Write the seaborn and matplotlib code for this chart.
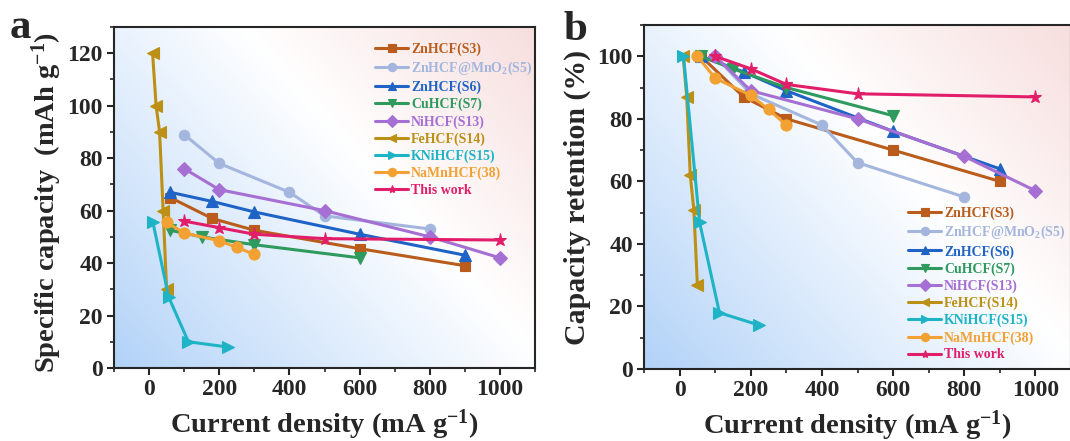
import numpy as np
import pandas as pd
import matplotlib
matplotlib.use("Agg")
import matplotlib.pyplot as plt
import seaborn as sns
from matplotlib.ticker import MultipleLocator, AutoMinorLocator

# ---------------- data ----------------
names = ["ZnHCF(S3)", r"ZnHCF@MnO$_\mathbf{2}$(S5)", "ZnHCF(S6)", "CuHCF(S7)",
         "NiHCF(S13)", "FeHCF(S14)", "KNiHCF(S15)", "NaMnHCF(38)", "This work"]

# panel a: specific capacity
s3_x = [60, 180, 300, 600, 900]
s3_cap = [65, 57, 52.5, 45.5, 39]
s5_x = [100, 200, 400, 500, 800]
s5_cap = [89, 78, 67, 58, 53]
s6_x = [60, 180, 300, 600, 900]
s6_cap = [67, 63.5, 59.5, 51, 43]
s7_x = [60, 150, 300, 600]
s7_cap = [52.5, 50, 47, 42]
s13_x = [100, 200, 500, 800, 1000]
s13_cap = [76, 68, 60, 50, 42]
s14_x = [10, 20, 30, 40, 50]
s14_cap = [120, 100, 90, 60, 30]
s15_x = [11, 56, 112, 224]
s15_cap = [55.5, 27, 10, 8]
s38_x = [50, 100, 200, 250, 300]
s38_cap = [55.5, 51.5, 48.5, 46, 43.3]
tw_x = [100, 200, 300, 500, 1000]
tw_cap = [56, 53.5, 51, 49.3, 48.8]

# panel b: capacity retention
s3_ret = [100, 87, 80, 70, 60]
s5_ret = [100, 88, 78, 66, 55]
s6_ret = [100, 95, 89, 76, 64]
s7_ret = [100, 96, 90, 81]
s13_ret = [100, 89, 80, 68, 57]
s14_ret = [100, 87, 62, 51, 27]
s15_ret = [100, 47, 18, 14]
s38_ret = [100, 93, 87.5, 83, 78]
tw_ret = [100, 96, 91, 88, 87]

xs = [s3_x, s5_x, s6_x, s7_x, s13_x, s14_x, s15_x, s38_x, tw_x]
caps = [s3_cap, s5_cap, s6_cap, s7_cap, s13_cap, s14_cap, s15_cap, s38_cap, tw_cap]
rets = [s3_ret, s5_ret, s6_ret, s7_ret, s13_ret, s14_ret, s15_ret, s38_ret, tw_ret]

colors = ["#B95C1C", "#A4B6DE", "#1F63C6", "#2E9A5E", "#A66FD3",
          "#BB9014", "#1EB4C6", "#F2A132", "#E21E6A"]
markers = ["s", "o", "^", "v", "D", "<", ">", "o", "*"]
msizes = [7, 7.5, 8, 8, 7, 8, 8, 8, 9.5]

x_ticks = [0, 200, 400, 600, 800, 1000]

# ---------------- style ----------------
sns.set_style("ticks")
plt.rcParams["font.family"] = ["Liberation Serif", "DejaVu Serif"]
plt.rcParams["font.weight"] = "bold"
plt.rcParams["mathtext.fontset"] = "custom"
plt.rcParams["mathtext.rm"] = "Liberation Serif:bold"
plt.rcParams["mathtext.bf"] = "Liberation Serif:bold"
plt.rcParams["mathtext.it"] = "Liberation Serif:bold:italic"
plt.rcParams["axes.linewidth"] = 1.5

fig = plt.figure(figsize=(10.7, 4.41), dpi=100)
ax_a = fig.add_axes([114 / 1070, 1 - 368 / 441, 421 / 1070, 341 / 441])
ax_b = fig.add_axes([644 / 1070, 1 - 369 / 441, 427 / 1070, 344 / 441])


def gradient_bg(ax):
    n = 300
    u = np.linspace(0, 1, n)[None, :]
    v = np.linspace(0, 1, n)[:, None]
    t = 0.58 * u + 0.42 * v
    blue = np.array([0.69, 0.82, 0.97])
    white = np.array([1.0, 1.0, 1.0])
    pink = np.array([0.97, 0.87, 0.87])
    w0 = 0.6
    lo = np.clip(t / w0, 0, 1) ** 0.9
    hi = np.clip((t - w0) / (1 - w0), 0, 1)
    mask = (t <= w0)[..., None]
    c_lo = blue + (white - blue) * lo[..., None]
    c_hi = white + (pink - white) * hi[..., None]
    img = np.where(mask, c_lo, c_hi)
    ax.imshow(img, extent=[0, 1, 0, 1], transform=ax.transAxes, origin="lower",
              aspect="auto", zorder=0, interpolation="bilinear")


def draw(ax, ys):
    gradient_bg(ax)
    for i in range(len(names)):
        df = pd.DataFrame({"x": xs[i], "y": ys[i]})
        sns.lineplot(data=df, x="x", y="y", ax=ax, sort=False, color=colors[i],
                     marker=markers[i], markersize=msizes[i], markeredgecolor=colors[i],
                     markeredgewidth=0.8, linewidth=2.2, label=names[i], zorder=3)
    ax.set_xlim(-100, 1100)
    ax.set_xticks(x_ticks)
    ax.xaxis.set_minor_locator(MultipleLocator(100))
    ax.yaxis.set_minor_locator(AutoMinorLocator(2))
    ax.tick_params(axis="both", which="major", direction="out", length=5, width=1.5,
                   labelsize=17, pad=3)
    ax.tick_params(axis="both", which="minor", direction="out", length=3, width=1.2)
    for lab in ax.get_xticklabels() + ax.get_yticklabels():
        lab.set_fontweight("bold")
    for sp in ax.spines.values():
        sp.set_linewidth(1.5)
        sp.set_visible(True)
    ax.set_xlabel(r"Current density (mA g$^{\mathbf{-1}}$)", fontsize=20.5,
                  fontweight="bold", labelpad=5)


draw(ax_a, caps)
ax_a.set_ylim(0, 130)
ax_a.set_yticks([0, 20, 40, 60, 80, 100, 120])
ax_a.set_ylabel(r"Specific capacity  (mAh g$^{\mathbf{-1}}$)", fontsize=20.5,
                fontweight="bold", labelpad=2)
ax_a.yaxis.set_label_coords(-0.118, 0.485)

draw(ax_b, rets)
ax_b.set_ylim(0, 110)
ax_b.set_yticks([0, 20, 40, 60, 80, 100])
ax_b.set_ylabel("Capacity retention (%)", fontsize=21.5, fontweight="bold", labelpad=1)
ax_b.yaxis.set_label_coords(-0.124, 0.5)


def style_legend(ax, **kw):
    leg = ax.legend(frameon=False, fontsize=10, handlelength=2.4, handletextpad=0.2,
                    labelspacing=0.27, borderpad=0, borderaxespad=0, numpoints=1, **kw)
    for txt, c in zip(leg.get_texts(), colors):
        txt.set_color(c)
        txt.set_fontweight("bold")
    for h in leg.get_lines():
        h.set_markersize(6)
    return leg


style_legend(ax_a, loc="upper left", bbox_to_anchor=(0.62, 0.955))
style_legend(ax_b, loc="lower left", bbox_to_anchor=(0.618, 0.022))

fig.text(10 / 1070, 1 - 38 / 441, "a", fontsize=31, fontweight="bold", va="baseline")
fig.text(563 / 1070, 1 - 40 / 441, "b", fontsize=31, fontweight="bold", va="baseline")

fig.savefig("out.png", dpi=100)
